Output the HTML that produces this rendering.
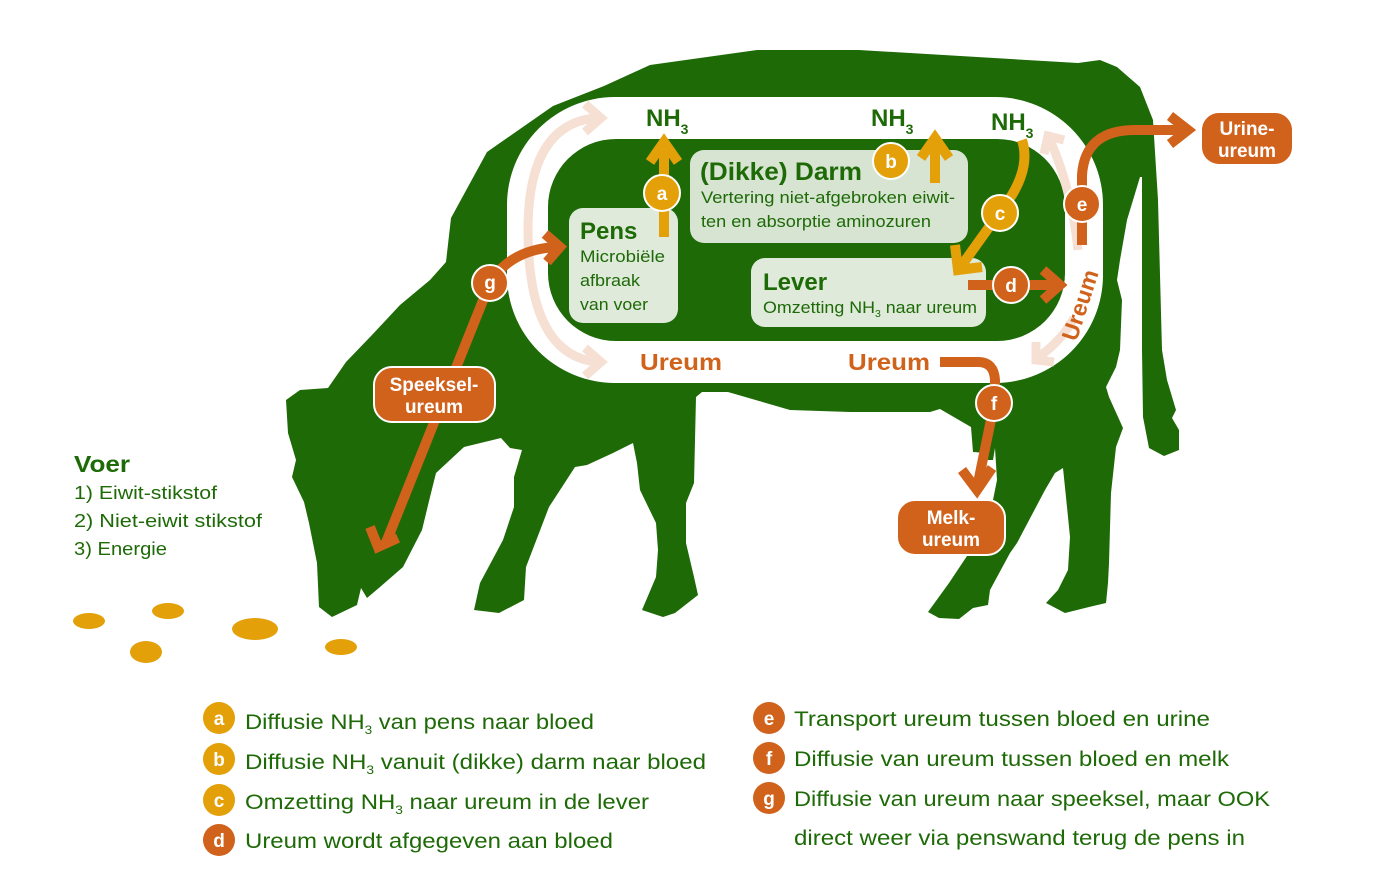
<!DOCTYPE html>
<html><head><meta charset="utf-8"><style>
html,body{margin:0;padding:0;background:#fff;}
svg{display:block;}
text{font-family:"Liberation Sans",sans-serif;}
</style></head><body>
<svg width="1385" height="886" viewBox="0 0 1385 886" xmlns="http://www.w3.org/2000/svg">
<path fill="#1d6a07" d="M286,400 L300,390 L328,388 L346,362 L372,335 L400,305 L430,280 L446,262 L451,218 L487,152 L553,106 L604,86 L650,65 L757,50 L859,50 L1078,63 L1100,60 L1117,67 L1140,87 L1153,120 L1158,200 L1162,350 L1167,380 L1176,410 L1172,418 L1179,430 L1179,450 L1164,456 L1149,448 L1143,417 L1142,350 L1142,177 L1140,177 L1127,220 L1120,260 L1117,280 L1122,300 L1120,350 L1116,367 L1106,387 L1109,397 L1123,428 L1116,447 L1111,493 L1109,563 L1108,583 L1106,603 L1089,607 L1065,613 L1046,603 L1058,590 L1068,570 L1070,537 L1067,507 L1063,468 L1055,473 L1045,490 L1017,543 L1010,553 L990,590 L988,605 L973,608 L959,619 L939,618 L928,612 L949,583 L969,553 L993,500 L997,480 L995,448 L993,460 L988,460 L987,453 L973,452 L971,427 L940,409 L930,412 L850,412 L790,410 L728,392 L702,392 L696,397 L694,483 L686,503 L686,543 L694,577 L698,595 L675,613 L663,617 L642,610 L656,577 L658,550 L656,523 L640,490 L637,463 L633,443 L613,453 L587,465 L575,467 L549,507 L526,567 L524,600 L499,613 L474,610 L480,583 L503,540 L514,507 L514,477 L522,450 L510,448 L501,438 L464,447 L436,473 L430,497 L422,530 L403,567 L380,587 L367,598 L361,588 L357,605 L332,617 L319,607 L317,563 L309,523 L304,502 L292,477 L296,460 L288,433 Z"/>
<rect x="507" y="97" width="596" height="286" rx="108" ry="108" fill="#fff"/>
<rect x="548" y="139" width="517" height="202" rx="68" ry="68" fill="#1d6a07"/>
<g fill="none" stroke="#f6e0d3" stroke-width="9">
<path d="M595,118 Q528,125 528,230 Q528,355 597,362"/>
<path d="M585,104 L601,118 L585,132"/>
<path d="M585,348 L601,362 L585,376"/>
<path d="M1078,250 Q1072,190 1050,140"/>
<path d="M1044,154 L1048,136 L1064,140"/>
<path d="M1074,318 Q1062,340 1040,356"/>
<path d="M1036,342 L1036,360 L1054,362"/>
</g>
<rect x="569" y="208" width="109" height="115" rx="14" fill="#dfeadb"/>
<rect x="690" y="150" width="278" height="93" rx="14" fill="#d6e4d1"/>
<rect x="751" y="258" width="235" height="69" rx="14" fill="#dfeadb"/>
<text x="580" y="239" font-size="24" font-weight="bold" fill="#1d6a07">Pens</text>
<g font-size="17" fill="#1d6a07">
<text x="580" y="262" textLength="85" lengthAdjust="spacingAndGlyphs">Microbiële</text>
<text x="580" y="286" textLength="60" lengthAdjust="spacingAndGlyphs">afbraak</text>
<text x="580" y="310" textLength="68" lengthAdjust="spacingAndGlyphs">van voer</text>
<text x="701" y="203" textLength="254" lengthAdjust="spacingAndGlyphs">Vertering niet-afgebroken eiwit-</text>
<text x="701" y="227" textLength="230" lengthAdjust="spacingAndGlyphs">ten en absorptie aminozuren</text>
<text x="763" y="313" textLength="214" lengthAdjust="spacingAndGlyphs">Omzetting NH<tspan font-size="10" dy="4">3</tspan><tspan dy="-4"> naar ureum</tspan></text>
</g>
<text x="700" y="180" font-size="25" font-weight="bold" fill="#1d6a07" textLength="162" lengthAdjust="spacingAndGlyphs">(Dikke) Darm</text>
<text x="763" y="290" font-size="24" font-weight="bold" fill="#1d6a07">Lever</text>
<g font-size="24" font-weight="bold" fill="#1d6a07">
<text x="646" y="126">NH<tspan font-size="14" dy="8">3</tspan></text>
<text x="871" y="126">NH<tspan font-size="14" dy="8">3</tspan></text>
<text x="991" y="130">NH<tspan font-size="14" dy="8">3</tspan></text>
</g>
<g stroke="#e3a008" fill="none" stroke-width="10">
<path d="M664,237 L664,145"/>
<path d="M650,162 L664,142 L678,162"/>
<path d="M935,183 L935,140"/>
<path d="M921,158 L935,138 L949,158"/>
<path d="M1022,140 Q1030,165 1012,195 L962,265"/>
<path d="M955,245 L958,270 L982,267"/>
</g>
<g stroke="#fff" stroke-width="2" fill="#e3a008">
<circle cx="662" cy="193" r="18"/><circle cx="891" cy="161" r="18"/><circle cx="1000" cy="213" r="18"/>
</g>
<g stroke="#d0621b" fill="none" stroke-width="10">
<path d="M968,285 L1058,285"/>
<path d="M1043,270 L1060,285 L1043,300"/>
<path d="M1082,245 L1082,175 Q1085,130 1135,130 L1186,130"/>
<path d="M1170,116 L1188,130 L1170,144"/>
<path d="M940,362 L978,362 Q994,362 995,380 L995,400 L977,488"/>
<path d="M962,470 L977,490 L992,468"/>
<path d="M385,545 L490,283 Q510,250 555,247"/>
<path d="M545,234 L560,247 L547,262"/>
<path d="M370,527 L378,547 L398,538"/>
</g>
<g stroke="#fff" stroke-width="2" fill="#d0621b">
<circle cx="1011" cy="285" r="18"/><circle cx="1082" cy="204" r="18"/><circle cx="994" cy="403" r="18"/><circle cx="490" cy="283" r="18"/>
</g>
<g font-size="19" font-weight="bold" fill="#fff" text-anchor="middle">
<text x="662" y="200">a</text><text x="891" y="168">b</text><text x="1000" y="220">c</text>
<text x="1011" y="292">d</text><text x="1082" y="211">e</text><text x="994" y="410">f</text><text x="490" y="289">g</text>
</g>
<g stroke="#fff" stroke-width="2" fill="#d0621b">
<rect x="374" y="367" width="121" height="55" rx="18"/>
<rect x="897" y="500" width="108" height="55" rx="18"/>
<rect x="1201" y="112" width="92" height="53" rx="18"/>
</g>
<g font-size="19" font-weight="bold" fill="#fff" text-anchor="middle">
<text x="434" y="391">Speeksel-</text><text x="434" y="413">ureum</text>
<text x="951" y="524">Melk-</text><text x="951" y="546">ureum</text>
<text x="1247" y="135">Urine-</text><text x="1247" y="157">ureum</text>
</g>
<g font-size="23" font-weight="bold" fill="#d0621b">
<text x="640" y="370" textLength="82" lengthAdjust="spacingAndGlyphs">Ureum</text>
<text x="848" y="370" textLength="82" lengthAdjust="spacingAndGlyphs">Ureum</text>
<text transform="translate(1080,305) rotate(-72)" text-anchor="middle" y="8">Ureum</text>
</g>
<text x="74" y="472" font-size="23" font-weight="bold" fill="#1d6a07" textLength="56" lengthAdjust="spacingAndGlyphs">Voer</text>
<g font-size="18" fill="#1d6a07">
<text x="74" y="499" textLength="143" lengthAdjust="spacingAndGlyphs">1) Eiwit-stikstof</text>
<text x="74" y="527" textLength="188" lengthAdjust="spacingAndGlyphs">2) Niet-eiwit stikstof</text>
<text x="74" y="555" textLength="93" lengthAdjust="spacingAndGlyphs">3) Energie</text>
</g>
<g fill="#e3a008">
<ellipse cx="89" cy="621" rx="16" ry="8"/><ellipse cx="168" cy="611" rx="16" ry="8"/><ellipse cx="146" cy="652" rx="16" ry="11"/><ellipse cx="255" cy="629" rx="23" ry="11"/><ellipse cx="341" cy="647" rx="16" ry="8"/>
</g>
<g fill="#e3a008"><circle cx="219" cy="718" r="16"/><circle cx="219" cy="759" r="16"/><circle cx="219" cy="800" r="16"/></g>
<g fill="#d0621b"><circle cx="219" cy="840" r="16"/><circle cx="769" cy="718" r="16"/><circle cx="769" cy="758" r="16"/><circle cx="769" cy="798" r="16"/></g>
<g font-size="19" font-weight="bold" fill="#fff" text-anchor="middle">
<text x="219" y="725">a</text><text x="219" y="766">b</text><text x="219" y="807">c</text><text x="219" y="847">d</text>
<text x="769" y="725">e</text><text x="769" y="765">f</text><text x="769" y="805">g</text>
</g>
<g font-size="21" fill="#1d6a07">
<text x="245" y="729" textLength="349" lengthAdjust="spacingAndGlyphs">Diffusie NH<tspan font-size="12" dy="5">3</tspan><tspan dy="-5"> van pens naar bloed</tspan></text>
<text x="245" y="769" textLength="461" lengthAdjust="spacingAndGlyphs">Diffusie NH<tspan font-size="12" dy="5">3</tspan><tspan dy="-5"> vanuit (dikke) darm naar bloed</tspan></text>
<text x="245" y="809" textLength="404" lengthAdjust="spacingAndGlyphs">Omzetting NH<tspan font-size="12" dy="5">3</tspan><tspan dy="-5"> naar ureum in de lever</tspan></text>
<text x="245" y="848" textLength="368" lengthAdjust="spacingAndGlyphs">Ureum wordt afgegeven aan bloed</text>
<text x="794" y="726" textLength="416" lengthAdjust="spacingAndGlyphs">Transport ureum tussen bloed en urine</text>
<text x="794" y="766" textLength="435" lengthAdjust="spacingAndGlyphs">Diffusie van ureum tussen bloed en melk</text>
<text x="794" y="806" textLength="476" lengthAdjust="spacingAndGlyphs">Diffusie van ureum naar speeksel, maar OOK</text>
<text x="794" y="845" textLength="451" lengthAdjust="spacingAndGlyphs">direct weer via penswand terug de pens in</text>
</g>
</svg>
</body></html>
